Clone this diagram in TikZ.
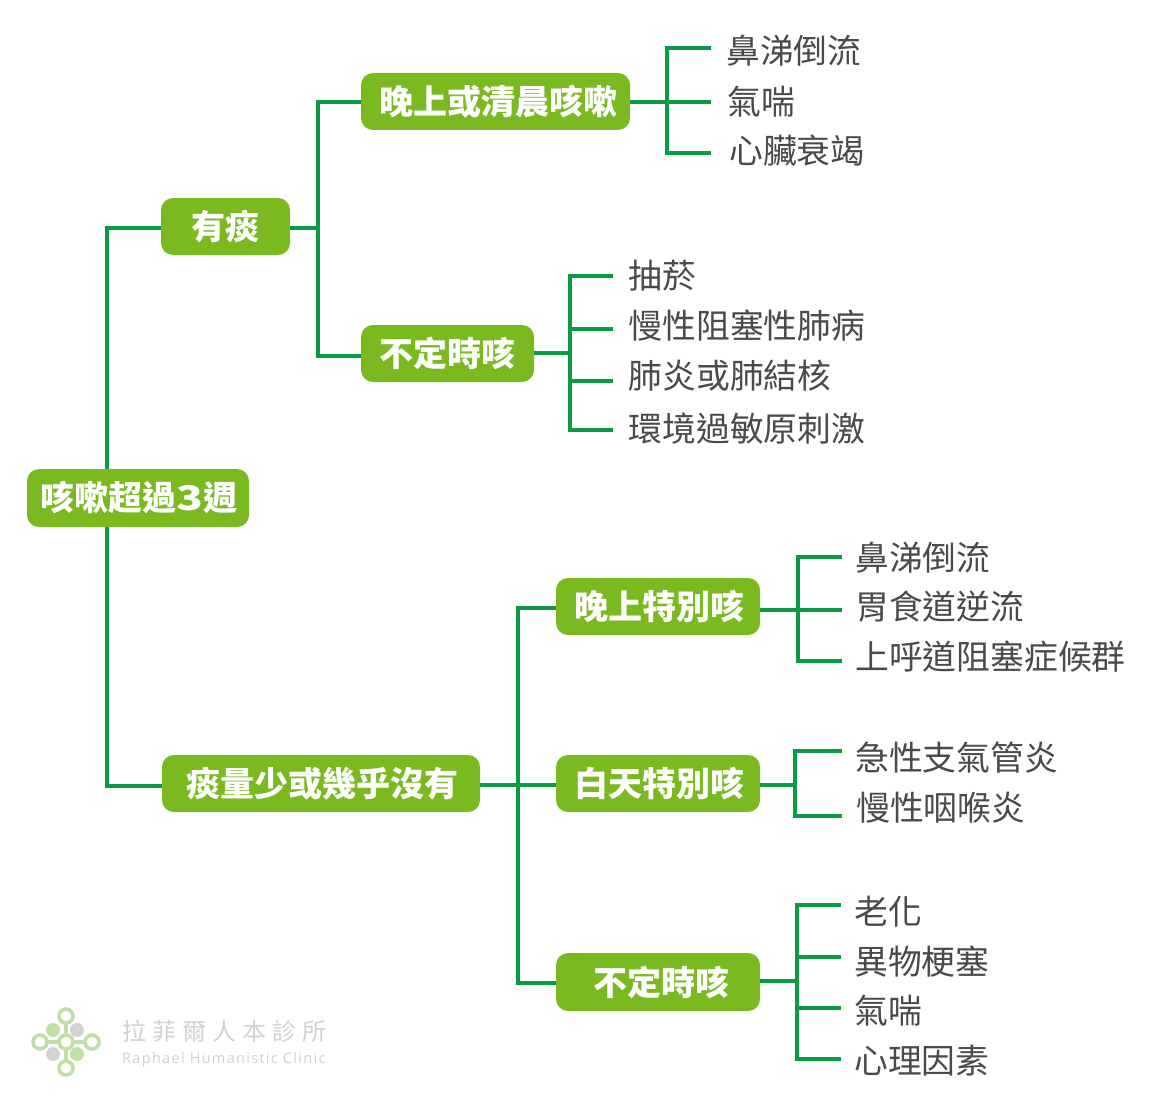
\documentclass[tikz,border=0pt]{standalone}
\usepackage{fontspec}
\setmainfont{Noto Sans CJK TC}
\newfontfamily\latinlogo[LetterSpace=9]{Open Sans}
\usetikzlibrary{calc}
\definecolor{linkgreen}{HTML}{0B9B45}
\definecolor{boxgreen}{HTML}{7AB91F}
\definecolor{leafgray}{HTML}{4A4A4A}
\definecolor{logogreen}{HTML}{C2DFA6}
\definecolor{logogray}{HTML}{D2D2D2}
\definecolor{logotext}{HTML}{D2D2D2}
\tikzset{
  greenbox/.style={fill=boxgreen,rounded corners=12pt,inner sep=0pt,text=white,font=\fontsize{34}{36}\selectfont\bfseries,anchor=center},
  leaftext/.style={inner sep=0pt,text height=0pt,text depth=0pt,anchor=base west,text=leafgray,font=\fontsize{33.8}{36}\selectfont},
  link/.style={draw=linkgreen,line width=3.6pt,line cap=butt,line join=miter},
  logoring/.style={circle,draw=logogreen,line width=3.6pt,fill=white,minimum size=14pt,inner sep=0pt},
  logodot/.style={circle,minimum size=14pt,inner sep=0pt}
}
\newcommand{\upa}[1]{\raisebox{2pt}{#1}}
% #1 name, #2 line end x, #3 line y, #4 text left x, #5 text centre y, #6 text
\newcommand{\leafnode}[6]{%
  \pgfmathsetmacro{\dxv}{#4-#2}%
  \pgfmathsetmacro{\dyv}{#3-#5-13.2}%
  \node[leaftext] (#1) at (#2,#3) {\hspace*{\dxv pt}\raisebox{\dyv pt}[0pt][0pt]{#6}};%
}
\begin{document}
\begin{tikzpicture}[x=1pt,y=-1pt]
\useasboundingbox (0,0) rectangle (1150,1110);
\fill[white] (0,0) rectangle (1150,1110);
% boxes
\node[greenbox,minimum width=222pt,minimum height=58pt] (root) at (138,498) {\upa{\kern2pt 咳嗽超過\scalebox{1.3}[1]{3}週}};
\node[greenbox,minimum width=129pt,minimum height=57pt] (a) at (225.5,226.5) {\upa{有痰}};
\node[greenbox,minimum width=318pt,minimum height=57pt] (b) at (321,783.5) {\upa{\kern2pt 痰量少或幾乎沒有}};
\node[greenbox,minimum width=269pt,minimum height=57pt] (a1) at (495.5,101.5) {\upa{\kern5pt 晚上或清晨咳嗽}};
\node[greenbox,minimum width=173pt,minimum height=57pt] (a2) at (447.5,353.5) {\upa{不定時咳}};
\node[greenbox,minimum width=204pt,minimum height=57pt] (b1) at (658,606.5) {\upa{\kern2pt 晚上特別咳}};
\node[greenbox,minimum width=204pt,minimum height=57pt] (b2) at (658,783.5) {\upa{\kern3pt 白天特別咳}};
\node[greenbox,minimum width=204pt,minimum height=58pt] (b3) at (658,982) {\upa{\kern6pt 不定時咳}};
% hubs
\coordinate (trunk) at (107,498);
\coordinate (ya) at (107,228);
\coordinate (yb) at (107,786);
\coordinate (ha) at (318,228);
\coordinate (hb) at (518,785);
\coordinate (ya1) at (318,102);
\coordinate (ya2) at (318,356);
\coordinate (yb1) at (518,608);
\coordinate (yb3) at (518,983);
\coordinate (ha1) at (667,102);
\coordinate (ha2) at (570,353);
\coordinate (hb1) at (798,610);
\coordinate (hb2) at (795,785);
\coordinate (hb3) at (797,981);
% leaves
\leafnode{l1}{711}{48}{726}{50}{鼻涕倒流}
\leafnode{l2}{711}{102}{727}{101}{氣喘}
\leafnode{l3}{711}{153}{729}{150}{心臟衰竭}
\leafnode{l4}{613}{276}{628}{275}{抽菸}
\leafnode{l5}{613}{329}{628.5}{325}{慢性阻塞性肺病}
\leafnode{l6}{613}{381}{628.5}{375}{肺炎或肺結核}
\leafnode{l7}{613}{430}{628.5}{428}{環境過敏原刺激}
\leafnode{l8}{842}{557}{855}{557}{鼻涕倒流}
\leafnode{l9}{842}{610}{855}{606}{胃食道逆流}
\leafnode{l10}{842}{661}{855}{656}{上呼道阻塞症候群}
\leafnode{l11}{842}{751}{855}{757}{急性支氣管炎}
\leafnode{l12}{842}{816}{856}{807}{慢性咽喉炎}
\leafnode{l13}{841}{905}{854}{911}{老化}
\leafnode{l14}{841}{957}{854}{961}{異物梗塞}
\leafnode{l15}{841}{1008}{854}{1010}{氣喘}
\leafnode{l16}{841}{1059}{854}{1060}{心理因素}
% connectors
\draw[link] (a.west |- ya) -- (ya) -- (trunk |- root.north);
\draw[link] (b.west |- yb) -- (yb) -- (trunk |- root.south);
\draw[link] (a.east |- ha) -- (ha);
\draw[link] (a1.west |- ya1) -- (ya1) -- (ya2) -- (a2.west |- ya2);
\draw[link] (b.east |- hb) -- (b2.west |- hb);
\draw[link] (b1.west |- yb1) -- (yb1) -- (yb3) -- (b3.west |- yb3);
\draw[link] (a1.east |- ha1) -- (ha1);
\draw[link] (l1.west) -| (ha1);
\draw[link] (l2.west) -- (ha1);
\draw[link] (l3.west) -| (ha1);
\draw[link] (a2.east |- ha2) -- (ha2);
\draw[link] (l4.west) -| (ha2);
\draw[link] (l5.west) -| (ha2);
\draw[link] (l6.west) -| (ha2);
\draw[link] (l7.west) -| (ha2);
\draw[link] (b1.east |- hb1) -- (hb1);
\draw[link] (l8.west) -| (hb1);
\draw[link] (l9.west) -- (hb1);
\draw[link] (l10.west) -| (hb1);
\draw[link] (b2.east |- hb2) -- (hb2);
\draw[link] (l11.west) -| (hb2);
\draw[link] (l12.west) -| (hb2);
\draw[link] (b3.east |- hb3) -- (hb3);
\draw[link] (l13.west) -| (hb3);
\draw[link] (l14.west) -| (hb3);
\draw[link] (l15.west) -| (hb3);
\draw[link] (l16.west) -| (hb3);
% logo
\draw[draw=logogreen,line width=3.6pt] (66,1016) -- (66,1068) (40,1042) -- (92,1042);
\node[logoring] (lt) at (66,1016) {};
\node[logoring] (lb) at (66,1068) {};
\node[logoring] (ll) at (40,1042) {};
\node[logoring] (lr) at (92,1042) {};
\node[logoring] (lc) at (66,1042) {};
\node[logodot,fill=logogreen] (d1) at (53,1030) {};
\node[logodot,fill=logogray] (d2) at (77,1030) {};
\node[logodot,fill=logogray] (d3) at (53,1054) {};
\node[logodot,fill=logogreen] (d4) at (77,1054) {};
\node[inner sep=0pt,anchor=west,text=logotext,font=\fontsize{24}{26}\selectfont] (lg1) at (122,1031) {拉\kern6pt 菲\kern6pt 爾\kern6pt 人\kern6pt 本\kern6pt 診\kern6pt 所};
\node[inner sep=0pt,anchor=west,text=logotext,font=\fontsize{14.5}{16}\selectfont\latinlogo] (lg2) at (122,1060) {Raphael Humanistic Clinic};
\end{tikzpicture}
\end{document}
